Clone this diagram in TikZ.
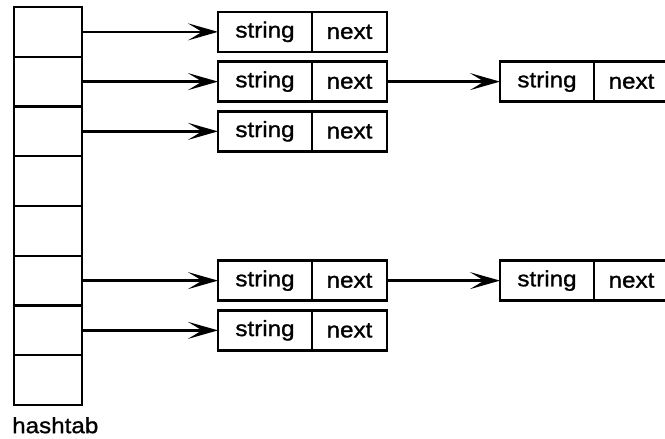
\documentclass[tikz,border=0pt]{standalone}
\usepackage{fontspec}
\setmainfont{Liberation Sans}[FakeStretch=1.1,FakeBold=1.2]
\usetikzlibrary{arrows.meta,positioning}

\begin{document}
\begin{tikzpicture}[x=1pt,y=1pt,
    cell/.style={draw,line width=2.4pt,minimum width=68pt,
        minimum height=49.75pt,inner sep=0pt,outer sep=0pt},
    field/.style={draw,line width=2.4pt,minimum height=40pt,
        inner sep=0pt,outer sep=0pt,font=\fontsize{22}{26}\selectfont},
    link/.style={line width=2.4pt,
        -{Stealth[length=30pt,width=17pt,inset=14pt]}}
    ]
\useasboundingbox (0,0) rectangle (665,439);
\coordinate (H) at (48,407.125);
\node[cell] (h1) at (H) {};
\foreach \x [count=\i] in {2,3,...,8}
    \node[cell,below=0pt of h\i] (h\x) {};
\foreach \r/\e in {1/a,2/b,3/c,6/d,7/e}{
    \node[field,minimum width=94pt,right=136pt of h\r] (s\e) {string};
    \node[field,minimum width=75pt,right=0pt of s\e] (n\e) {next};
    \draw[link] (h\r) -- (s\e);
}
\foreach \e/\f in {b/f,d/g}{
    \node[field,minimum width=94pt,right=113pt of n\e] (s\f) {string};
    \node[field,minimum width=75pt,right=0pt of s\f] (n\f) {next};
    \draw[link] (n\e) -- (s\f);
}
\node[anchor=north west,inner sep=0pt,font=\fontsize{22}{26}\selectfont] (lbl)
    at ([shift={(-2pt,-12pt)}]h8.south west) {hashtab};
\end{tikzpicture}
\end{document}
